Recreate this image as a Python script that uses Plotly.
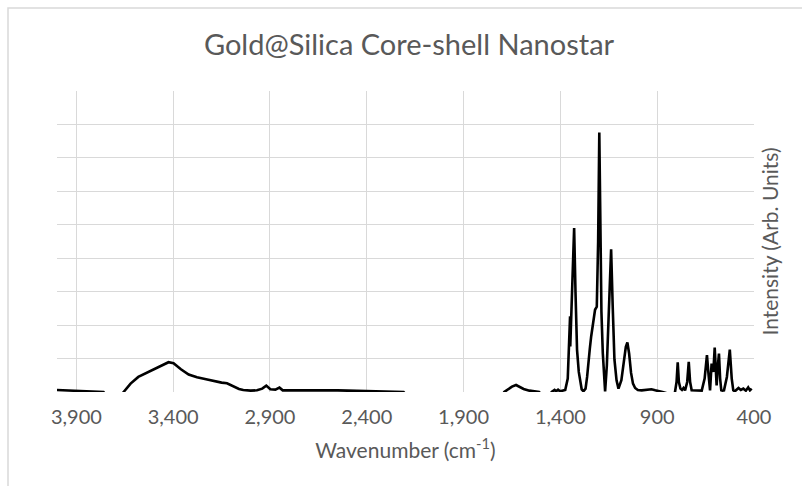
import plotly.graph_objects as go

# Wavenumber (cm-1) and intensity (arb. units, grid units)
wavenumber = [
    4000, 3950, 3900, 3850, 3800, 3760, 3745, 3670, 3656, 3620, 3580, 3518, 3470, 3424,
    3398, 3360, 3320, 3277, 3230, 3191, 3150, 3122, 3088, 3060, 3038, 3000, 2967, 2940,
    2919, 2898, 2872, 2851, 2834, 2800, 2750, 2700, 2650, 2600, 2550, 2500, 2450, 2400,
    2350, 2300, 2250, 2210, 2195, 1700, 1690, 1670, 1650, 1629, 1610, 1590, 1560, 1530,
    1510, 1495, 1455, 1445, 1430, 1422, 1412, 1402, 1390, 1375, 1362, 1356, 1350, 1349,
    1345, 1340, 1329, 1322, 1314, 1305, 1298, 1290, 1281, 1270, 1262, 1255, 1248, 1241,
    1233, 1227, 1221, 1212, 1205, 1199, 1193, 1188, 1181, 1175, 1169, 1160, 1152, 1145,
    1138, 1130, 1121, 1110, 1100, 1085, 1071, 1062, 1054, 1045, 1035, 1025, 1014, 1000,
    980, 950, 930, 910, 885, 872, 815, 808, 800, 794, 788, 780, 772, 764, 756, 745, 737,
    730, 722, 700, 670, 655, 648, 643, 636, 627, 619, 610, 603, 597, 593, 588, 581, 575,
    569, 563, 555, 540, 525, 515, 507, 499, 490, 480, 468, 455, 442, 430, 421, 412, 406, 400,
]
intensity = [
    0.06, 0.05, 0.04, 0.03, 0.01, 0.00, -0.10, -0.10, 0.00, 0.25, 0.45, 0.62, 0.76, 0.89,
    0.86, 0.68, 0.52, 0.44, 0.38, 0.32, 0.28, 0.26, 0.16, 0.09, 0.06, 0.04, 0.05, 0.10,
    0.19, 0.08, 0.07, 0.13, 0.05, 0.05, 0.06, 0.07, 0.06, 0.06, 0.05, 0.04, 0.03, 0.03,
    0.02, 0.01, 0.00, 0.00, -0.10, -0.10, 0.00, 0.08, 0.16, 0.21, 0.15, 0.09, 0.04, 0.02,
    0.00, -0.10, -0.10, 0.00, 0.06, 0.02, 0.07, 0.02, 0.03, 0.06, 0.40, 1.30, 2.26, 1.36,
    2.10, 3.30, 4.90, 3.00, 1.26, 0.60, 0.30, 0.08, 0.02, 0.10, 0.45, 0.96, 1.30, 1.66,
    1.95, 2.25, 2.46, 2.55, 4.50, 7.76, 4.20, 2.40, 1.17, 0.45, 0.02, 0.80, 2.15, 3.50,
    4.27, 2.60, 0.98, 0.35, 0.10, 0.35, 1.00, 1.35, 1.48, 1.15, 0.57, 0.25, 0.12, 0.06,
    0.05, 0.06, 0.08, 0.05, 0.02, 0.00, -0.10, 0.00, 0.30, 0.89, 0.30, 0.10, 0.06, 0.12,
    0.05, 0.30, 0.90, 0.30, 0.05, 0.04, 0.04, 0.40, 0.90, 1.10, 0.60, 0.05, 0.85, 0.60,
    1.33, 0.60, 0.20, 0.70, 1.15, 0.40, 0.05, 0.04, 0.05, 0.45, 1.27, 0.40, 0.05, 0.02,
    0.06, 0.12, 0.06, 0.10, 0.04, 0.14, 0.05, 0.10,
]

x_ticks = [3900, 3400, 2900, 2400, 1900, 1400, 900, 400]
x_tick_labels = ["3,900", "3,400", "2,900", "2,400", "1,900", "1,400", "900", "400"]

title_text = "Gold@Silica Core-shell Nanostar"
x_title = "Wavenumber (cm<sup>-1</sup>)"
y_title = "Intensity (Arb. Units)"

FONT = "Lato"
GREY = "#595959"
GRID = "#d9d9d9"

fig = go.Figure()
fig.add_trace(go.Scatter(
    x=wavenumber, y=intensity, mode="lines",
    line=dict(color="black", width=2.6),
    hoverinfo="x+y", showlegend=False,
))

fig.update_layout(
    width=802, height=486,
    margin=dict(l=57, r=48, t=91, b=94),
    paper_bgcolor="white", plot_bgcolor="white",
    font=dict(family=FONT, color=GREY),
    title=dict(text=title_text, x=0.51, xref="container", xanchor="center",
               y=1 - 45 / 486, yref="container", yanchor="middle",
               font=dict(family=FONT, size=29, color=GREY)),
    xaxis=dict(
        range=[4000, 400], autorange=False,
        tickvals=x_ticks, ticktext=x_tick_labels,
        ticks="outside", ticklen=7, tickcolor="rgba(0,0,0,0)",
        tickfont=dict(family=FONT, size=20, color=GREY),
        showgrid=True, gridcolor=GRID, gridwidth=1.3,
        zeroline=False, showline=False,
        title=dict(text=x_title, font=dict(family=FONT, size=21, color=GREY), standoff=16),
    ),
    yaxis=dict(
        range=[0, 9], autorange=False, dtick=1, tick0=0,
        side="right", showticklabels=False, ticks="",
        showgrid=True, gridcolor=GRID, gridwidth=1.3,
        zeroline=False, showline=False,
        title=dict(text=y_title, font=dict(family=FONT, size=21, color=GREY), standoff=9),
    ),
    shapes=[dict(
        type="rect", xref="paper", yref="paper",
        x0=(8 - 57) / 697, x1=1.2, y0=-0.5, y1=(392 - 8) / 301,
        line=dict(color=GRID, width=1.5), fillcolor="rgba(0,0,0,0)", layer="below",
    )],
)

fig.write_html("out.html")
